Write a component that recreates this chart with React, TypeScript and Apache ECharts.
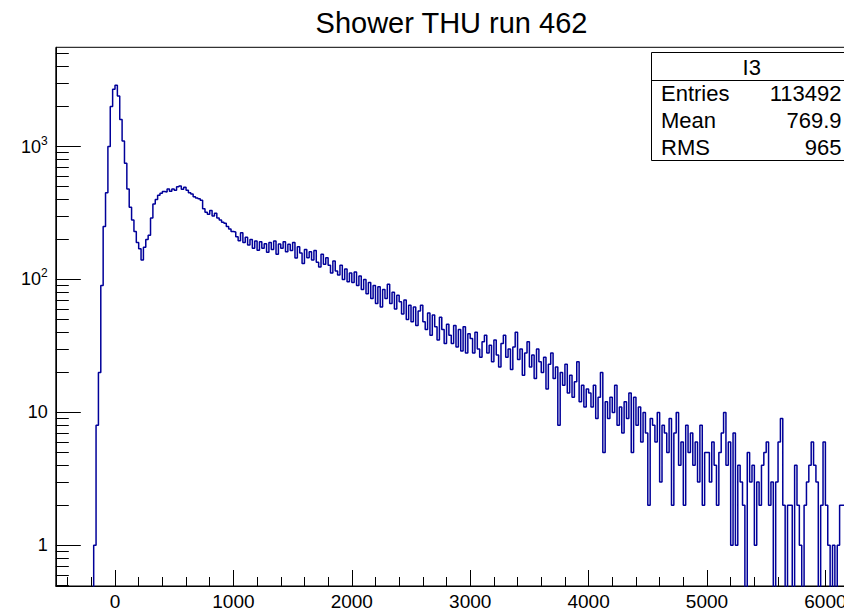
import React, { useEffect, useRef } from 'react';
import * as echarts from 'echarts';

const TITLE = 'Shower THU run 462';
const STATS_NAME = 'I3';
const STATS_LABELS = ['Entries', 'Mean', 'RMS'];
const STATS_VALUES = ['113492', '769.9', '965'];

const BIN_WIDTH = 20;
const FIRST_EDGE = -200;

// bins -200 .. -20
const countsRise = [0, 1, 8, 20, 90, 250, 450, 1000, 2000, 2700];
// bins 0 .. 980
const counts0 = [
  2900, 2400, 1600, 1100, 750, 480, 350, 280, 230, 190,
  170, 140, 175, 200, 215, 290, 370, 400, 430, 445,
  460, 455, 480, 462, 480, 470, 498, 505, 478, 495,
  470, 450, 440, 420, 410, 405, 395, 340, 320, 310,
  330, 300, 315, 290, 280, 270, 265, 250, 240, 230,
];
// bins 1000 .. 1980
const counts1000 = [
  228, 210, 196, 225, 190, 208, 182, 200, 172, 195,
  166, 192, 172, 186, 160, 190, 168, 195, 155, 185,
  172, 192, 162, 184, 165, 190, 145, 176, 158, 132,
  168, 146, 162, 140, 165, 135, 124, 155, 130, 146,
  128, 112, 138, 116, 108, 128, 100, 120, 96, 112,
];
// bins 2000 .. 2980
const counts2000 = [
  95, 114, 90, 106, 84, 100, 78, 95, 72, 90,
  66, 88, 62, 84, 72, 92, 66, 80, 60, 76,
  68, 55, 70, 50, 64, 48, 62, 45, 58, 64,
  48, 42, 56, 38, 54, 44, 35, 52, 42, 33,
  46, 38, 33, 45, 31, 42, 29, 44, 28, 39,
];
// bins 3000 .. 3980
const counts3000 = [
  36, 28, 40, 30, 26, 34, 38, 28, 32, 24,
  35, 27, 22, 33, 38, 26, 30, 21, 31, 40,
  25, 30, 19, 28, 34, 22, 27, 18, 30, 24,
  20, 26, 15, 23, 28, 18, 22, 8, 20, 16,
  23, 14, 19, 13, 17, 24, 12, 16, 11, 15,
];
// bins 4000 .. 4980
const counts4000 = [
  14, 11, 16, 9, 13, 20, 5, 12, 9, 13,
  10, 16, 8, 11, 7, 12, 9, 14, 5, 13,
  8, 11, 6, 10, 7, 2, 9, 8, 6, 10,
  3, 8, 7, 5, 9, 2, 7, 10, 4, 6,
  2, 8, 5, 7, 4, 6, 3, 8, 2, 5,
];
// bins 5000 .. 6180
const counts5000 = [
  5, 3, 6, 4, 2, 5, 7, 10, 4, 6,
  1, 7, 1, 4, 3, 2, 0, 5, 3, 4,
  1, 3, 2, 4, 5, 6, 2, 3, 0, 3,
  6, 9, 2, 0, 2, 2, 0, 4, 2, 1,
  0, 2, 3, 4, 6, 4, 3, 0, 2, 6,
  2, 1, 0, 1, 0, 1, 2, 2, 2, 2,
];

const X_MIN = -500;
const X_MAX = 6500;
const Y_MIN_COUNT = 0.494;
const Y_MAX_COUNT = 5585;

const xMajorTicks = [0, 1000, 2000, 3000, 4000, 5000, 6000];
const xMinorTicks = [
  -400, -200, 200, 400, 600, 800, 1200, 1400, 1600, 1800, 2200, 2400, 2600, 2800,
  3200, 3400, 3600, 3800, 4200, 4400, 4600, 4800, 5200, 5400, 5600, 5800, 6200, 6400,
];
const yMajorCounts = [1, 10, 100, 1000];
const yMinorCounts = [
  0.5, 0.6, 0.7, 0.8, 0.9,
  2, 3, 4, 5, 6, 7, 8, 9,
  20, 30, 40, 50, 60, 70, 80, 90,
  200, 300, 400, 500, 600, 700, 800, 900,
  2000, 3000, 4000, 5000,
];

const FONT = '"Liberation Sans", Arial, Helvetica, sans-serif';
const LINE_COLOR = '#000099';
// the drawing surface is wider than the 844px window; the frame's right side lies outside it
const CANVAS_W = 900;
const CANVAS_H = 611;

export default function App() {
  const ref = useRef<HTMLDivElement>(null);

  useEffect(() => {
    if (!ref.current) return;
    const chart = echarts.init(ref.current, undefined, { renderer: 'svg' });

    const allCounts = [
      ...countsRise, ...counts0, ...counts1000, ...counts2000,
      ...counts3000, ...counts4000, ...counts5000,
    ];
    const toLog = (c: number) => (c > 0 ? Math.log10(c) : -3);
    const data: number[][] = allCounts.map((c, i) => [FIRST_EDGE + i * BIN_WIDTH, toLog(c)]);
    data.push([FIRST_EDGE + allCounts.length * BIN_WIDTH, toLog(allCounts[allCounts.length - 1])]);

    const yMin = Math.log10(Y_MIN_COUNT);
    const yMax = Math.log10(Y_MAX_COUNT);

    const baseX = {
      type: 'value',
      min: X_MIN,
      max: X_MAX,
      position: 'bottom',
      splitLine: { show: false },
    };
    const baseY = {
      type: 'value',
      min: yMin,
      max: yMax,
      position: 'left',
      splitLine: { show: false },
    };

    chart.setOption({
      animation: false,
      grid: {
        left: 55.8,
        top: 47.3,
        right: CANVAS_W - 884.6,
        bottom: 24.3,
        show: true,
        borderColor: '#000',
        borderWidth: 1,
        backgroundColor: 'transparent',
      },
      xAxis: [
        {
          ...baseX,
          axisLine: { show: true, onZero: false, lineStyle: { color: '#000', width: 1 } },
          axisTick: { show: true, inside: true, length: 16, customValues: xMajorTicks, lineStyle: { color: '#000' } },
          axisLabel: {
            show: true,
            customValues: xMajorTicks,
            fontSize: 19,
            fontFamily: FONT,
            color: '#000',
            margin: 6,
            hideOverlap: false,
            formatter: (v: number) => String(v),
          },
        },
        {
          ...baseX,
          axisLine: { show: false, onZero: false },
          axisTick: { show: true, inside: true, length: 9, customValues: xMinorTicks, lineStyle: { color: '#000' } },
          axisLabel: { show: false },
        },
      ],
      yAxis: [
        {
          ...baseY,
          axisLine: { show: true, onZero: false, lineStyle: { color: '#000', width: 1 } },
          axisTick: { show: true, inside: true, length: 25, customValues: yMajorCounts.map(Math.log10), lineStyle: { color: '#000' } },
          axisLabel: {
            show: true,
            customValues: yMajorCounts.map(Math.log10),
            margin: 8,
            hideOverlap: false,
            formatter: (v: number) => {
              const e = Math.round(v);
              if (e === 0) return '{b|1}';
              if (e === 1) return '{b|10}';
              return '{b|10}{s|' + e + '}';
            },
            rich: {
              b: { fontSize: 18, fontFamily: FONT, color: '#000', lineHeight: 24 },
              s: { fontSize: 12, fontFamily: FONT, color: '#000', verticalAlign: 'top' },
            },
          },
        },
        {
          ...baseY,
          axisLine: { show: false, onZero: false },
          axisTick: { show: true, inside: true, length: 13, customValues: yMinorCounts.map(Math.log10), lineStyle: { color: '#000' } },
          axisLabel: { show: false },
        },
      ],
      series: [
        {
          type: 'line',
          xAxisIndex: 0,
          yAxisIndex: 0,
          step: 'end',
          data,
          showSymbol: false,
          symbol: 'none',
          clip: true,
          lineStyle: { color: LINE_COLOR, width: 1.5 },
          z: 3,
        },
      ],
      graphic: [
        {
          type: 'text',
          x: 451.5,
          y: 23,
          z: 10,
          style: {
            text: TITLE,
            font: '29px ' + FONT,
            fill: '#000',
            textAlign: 'center',
            textVerticalAlign: 'middle',
            align: 'center',
            verticalAlign: 'middle',
          },
        },
        {
          type: 'rect',
          z: 10,
          shape: { x: 651.5, y: 52.5, width: 200, height: 108 },
          style: { fill: '#fff', stroke: '#000', lineWidth: 1 },
        },
        {
          type: 'line',
          z: 11,
          shape: { x1: 651.5, y1: 80.5, x2: 852, y2: 80.5 },
          style: { stroke: '#000', lineWidth: 1 },
        },
        {
          type: 'text',
          x: 751.7,
          y: 67,
          z: 11,
          style: {
            text: STATS_NAME, font: '22px ' + FONT, fill: '#000',
            textAlign: 'center', textVerticalAlign: 'middle', align: 'center', verticalAlign: 'middle',
          },
        },
        ...STATS_LABELS.map((t, i) => ({
          type: 'text',
          x: 661,
          y: 93 + i * 27.3,
          z: 11,
          style: {
            text: t, font: '22px ' + FONT, fill: '#000',
            textAlign: 'left', textVerticalAlign: 'middle', align: 'left', verticalAlign: 'middle',
          },
        })),
        ...STATS_VALUES.map((t, i) => ({
          type: 'text',
          x: 841.5,
          y: 93 + i * 27.3,
          z: 11,
          style: {
            text: t, font: '22px ' + FONT, fill: '#000',
            textAlign: 'right', textVerticalAlign: 'middle', align: 'right', verticalAlign: 'middle',
          },
        })),
      ],
    });

    return () => chart.dispose();
  }, []);

  return (
    <div
      ref={ref}
      style={{ position: 'fixed', left: 0, top: 0, width: CANVAS_W, height: CANVAS_H, background: '#fff' }}
    />
  );
}
